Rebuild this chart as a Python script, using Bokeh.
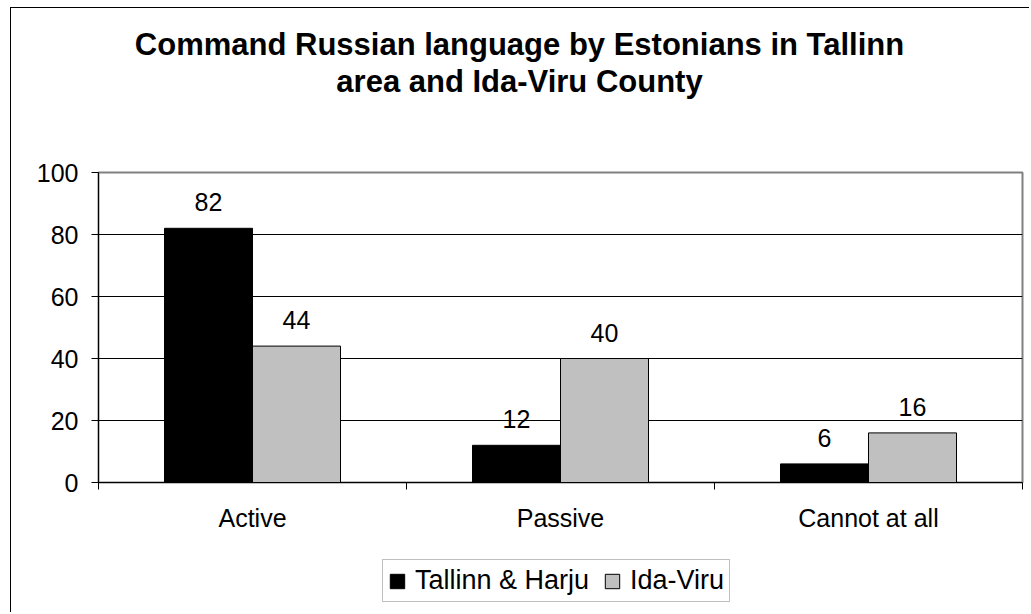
from bokeh.plotting import figure
from bokeh.layouts import column
from bokeh.models import ColumnDataSource, FixedTicker, Range1d, Legend, LegendItem, LabelSet, Title
from bokeh.embed import file_html
from bokeh.resources import INLINE
from bokeh.core.properties import value

# ---- data ----
categories = ["Active", "Passive", "Cannot at all"]
series_names = ["Tallinn & Harju", "Ida-Viru"]
tallinn_harju = [82, 12, 6]
ida_viru = [44, 40, 16]
y_ticks = [0, 20, 40, 60, 80, 100]
title_lines = ["Command Russian language by Estonians in Tallinn", "area and Ida-Viru County"]
series_colors = ["black", "#C0C0C0"]

FONT = "Liberation Sans"
BAR_W = 1 / 3.5  # Excel gap width 150%

centers = [i + 0.5 for i in range(len(categories))]
src1 = ColumnDataSource(dict(x=[c - BAR_W / 2 for c in centers], top=tallinn_harju,
                             label=[str(v) for v in tallinn_harju]))
src2 = ColumnDataSource(dict(x=[c + BAR_W / 2 for c in centers], top=ida_viru,
                             label=[str(v) for v in ida_viru]))

p = figure(width=1018, height=537, output_backend="svg", toolbar_location=None, title=None,
           x_range=Range1d(0, len(categories)), y_range=Range1d(0, 100),
           min_border_left=87, min_border_right=7, min_border_top=164, min_border_bottom=63)
p.background_fill_color = "white"
p.border_fill_color = "white"
p.outline_line_color = "#808080"
p.outline_line_width = 2

# title: two centred lines (first added sits nearest the frame)
# padding given as (left, right, top, bottom)
t2 = Title(text=title_lines[1], align="center", standoff=0, padding=(0, 82, 0, 74),
           text_font=FONT, text_font_size="31px", text_font_style="bold", text_color="black")
t1 = Title(text=title_lines[0], align="center", standoff=0, padding=(0, 82, 0, 0),
           text_font=FONT, text_font_size="31px", text_font_style="bold", text_color="black")
p.add_layout(t2, "above")
p.add_layout(t1, "above")

# bars
r1 = p.vbar(x="x", top="top", bottom=0, width=BAR_W, source=src1,
            fill_color=series_colors[0], line_color="black", line_width=1)
r2 = p.vbar(x="x", top="top", bottom=0, width=BAR_W, source=src2,
            fill_color=series_colors[1], line_color="black", line_width=1)

for s in (src1, src2):
    p.add_layout(LabelSet(x="x", y="top", text="label", source=s, y_offset=17,
                          text_align="center", text_baseline="alphabetic",
                          text_font=value(FONT), text_font_size=value("25px"),
                          text_color="black"))

# grid
p.xgrid.visible = False
p.ygrid.ticker = FixedTicker(ticks=y_ticks[1:-1])
p.ygrid.grid_line_color = "black"
p.ygrid.grid_line_width = 1

# y axis
p.yaxis.ticker = FixedTicker(ticks=y_ticks)
p.yaxis.major_tick_out = 7
p.yaxis.major_tick_in = 0
p.yaxis.minor_tick_out = 0
p.yaxis.minor_tick_in = 0
p.yaxis.axis_line_color = "black"
p.yaxis.major_tick_line_color = "black"
p.yaxis.major_label_text_font = FONT
p.yaxis.major_label_text_font_size = "25px"
p.yaxis.major_label_text_color = "black"
p.yaxis.major_label_standoff = 13

# x axis
p.xaxis.ticker = FixedTicker(ticks=centers, minor_ticks=list(range(len(categories) + 1)))
p.xaxis.major_label_overrides = {c: name for c, name in zip(centers, categories)}
p.xaxis.major_tick_line_color = None
p.xaxis.major_tick_out = 7
p.xaxis.major_tick_in = 0
p.xaxis.minor_tick_out = 7
p.xaxis.minor_tick_in = 0
p.xaxis.minor_tick_line_color = "black"
p.xaxis.axis_line_color = "black"
p.xaxis.major_label_text_font = FONT
p.xaxis.major_label_text_font_size = "25px"
p.xaxis.major_label_text_color = "black"
p.xaxis.major_label_standoff = 14

# legend strip (separate canvas below the chart); its swatch renderers are hidden
lf = figure(width=1018, height=67, output_backend="svg", toolbar_location=None, title=None,
            x_range=Range1d(0, 1), y_range=Range1d(0, 1), min_border=0,
            min_border_left=0, min_border_right=0, min_border_top=0, min_border_bottom=0,
            x_axis_type=None, y_axis_type=None)
lf.outline_line_color = None
lf.background_fill_color = "white"
lf.border_fill_color = "white"
lr1 = lf.vbar(x=[0.5], top=[1], width=0.1, fill_color=series_colors[0], line_color="black",
              visible=False)
lr2 = lf.vbar(x=[0.5], top=[1], width=0.1, fill_color=series_colors[1], line_color="black",
              visible=False)
legend = Legend(items=[LegendItem(label=series_names[0], renderers=[lr1]),
                       LegendItem(label=series_names[1], renderers=[lr2])],
                orientation="horizontal", location=(284, 10), margin=0,
                glyph_width=18, glyph_height=18, label_standoff=9, spacing=14, padding=5,
                label_text_font=FONT, label_text_font_size="27px", label_text_color="black",
                border_line_color="#808080", border_line_width=1,
                background_fill_color="white", background_fill_alpha=1)
lf.add_layout(legend, "center")

lay = column(p, lf, spacing=0)
lay.styles = {"margin-left": "10px", "margin-top": "7px",
              "border-left": "1px solid black", "border-top": "1px solid black"}

open("out.html", "w").write(file_html(lay, INLINE))
